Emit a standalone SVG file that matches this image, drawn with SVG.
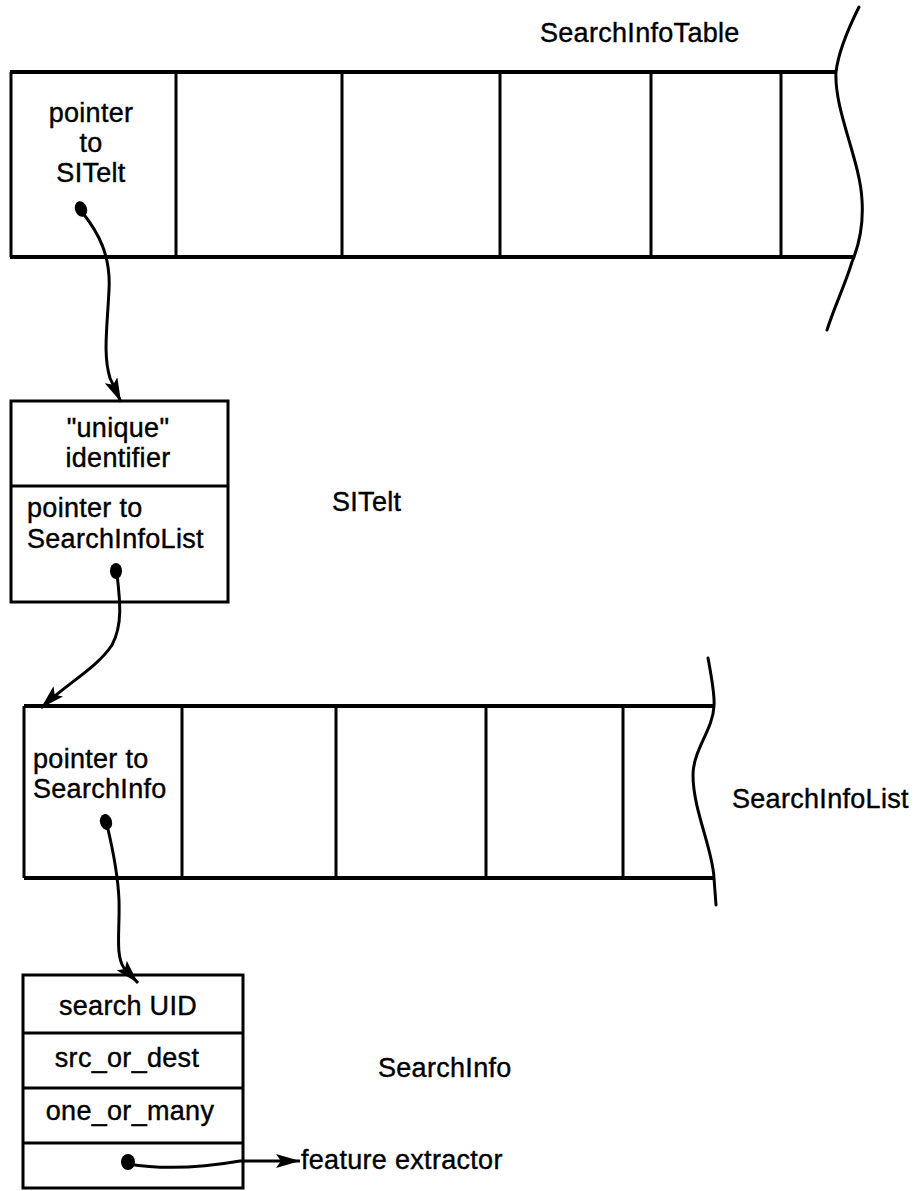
<svg xmlns="http://www.w3.org/2000/svg" width="923" height="1191" viewBox="0 0 923 1191">
<style>
  text { font-family: "Liberation Sans", Arial, sans-serif; font-size: 27px; letter-spacing: 0.3px; fill: #000; stroke: #000; stroke-width: 0.4; }
  .c { text-anchor: middle; }
  .box { fill: none; stroke: #000; stroke-width: 3; }
  .thick { stroke: #000; stroke-width: 4; fill: none; }
  .div { stroke: #000; stroke-width: 3; }
  .wave { fill: none; stroke: #000; stroke-width: 3; stroke-linecap: round; }
  .conn { fill: none; stroke: #000; stroke-width: 3; }
  .dot { fill: #000; }
</style>
<defs>
  <marker id="arrow" viewBox="0 0 24 14" refX="24" refY="7" markerWidth="24" markerHeight="14" markerUnits="userSpaceOnUse" orient="auto">
    <path d="M0,0 L24,7 L0,14 L5,7 Z" fill="#000"/>
  </marker>
</defs>
<rect width="923" height="1191" fill="#fff"/>

<g id="SearchInfoTable">
  <text x="540" y="42">SearchInfoTable</text>
  <line class="thick" x1="10" y1="72" x2="837" y2="72"/>
  <line class="thick" x1="10" y1="257" x2="855" y2="257"/>
  <line class="div" x1="11" y1="72" x2="11" y2="257"/>
  <line class="div" x1="176" y1="72" x2="176" y2="257"/>
  <line class="div" x1="342" y1="72" x2="342" y2="257"/>
  <line class="div" x1="500" y1="72" x2="500" y2="257"/>
  <line class="div" x1="651" y1="72" x2="651" y2="257"/>
  <line class="div" x1="781" y1="72" x2="781" y2="257"/>
  <path class="wave" d="M859,7 C846,33 838,55 836,72 C834,110 860,160 862,200 C864,230 857,250 852,262 C845,285 835,305 827,330"/>
  <text class="c" x="91" y="122">pointer</text>
  <text class="c" x="91" y="152">to</text>
  <text class="c" x="91" y="182">SITelt</text>
</g>

<g id="SITelt">
  <rect class="box" x="11" y="401" width="217" height="201"/>
  <line class="div" x1="11" y1="486" x2="228" y2="486"/>
  <text class="c" x="118" y="437">"unique"</text>
  <text class="c" x="118" y="467">identifier</text>
  <text x="27" y="517">pointer to</text>
  <text x="27" y="548">SearchInfoList</text>
  <text x="332" y="511">SITelt</text>
</g>

<g id="SearchInfoList">
  <line class="thick" x1="24" y1="706" x2="714" y2="706"/>
  <line class="thick" x1="24" y1="878" x2="714" y2="878"/>
  <line class="div" x1="24" y1="706" x2="24" y2="878"/>
  <line class="div" x1="182" y1="706" x2="182" y2="878"/>
  <line class="div" x1="336" y1="706" x2="336" y2="878"/>
  <line class="div" x1="486" y1="706" x2="486" y2="878"/>
  <line class="div" x1="623" y1="706" x2="623" y2="878"/>
  <path class="wave" d="M708,658 C712,680 715,695 714,706 C713,730 693,750 693,775 C693,810 713,850 714,878 L716,905"/>
  <text x="33" y="768">pointer to</text>
  <text x="33" y="798">SearchInfo</text>
  <text x="732" y="808">SearchInfoList</text>
</g>

<g id="SearchInfo">
  <rect class="box" x="23" y="975" width="220" height="213"/>
  <line class="div" x1="23" y1="1033" x2="243" y2="1033"/>
  <line class="div" x1="23" y1="1088" x2="243" y2="1088"/>
  <line class="div" x1="23" y1="1143" x2="243" y2="1143"/>
  <text class="c" x="128" y="1015">search UID</text>
  <text class="c" x="127" y="1067">src_or_dest</text>
  <text class="c" x="130" y="1120">one_or_many</text>
  <text x="378" y="1077">SearchInfo</text>
</g>

<g id="feature-extractor">
  <text x="301" y="1169">feature extractor</text>
</g>

<g id="connectors">
  <ellipse class="dot" cx="81" cy="209" rx="6" ry="8" transform="rotate(-20 81 209)"/>
  <path class="conn" marker-end="url(#arrow)" d="M82,212 C98,232 111,255 109,290 C107,330 103,355 110,378 L121,402"/>
  <ellipse class="dot" cx="116" cy="571" rx="6" ry="8"/>
  <path class="conn" marker-end="url(#arrow)" d="M117,574 C120,600 123,625 112,645 C97,668 66,684 41,708"/>
  <ellipse class="dot" cx="106" cy="822" rx="6" ry="8" transform="rotate(-15 106 822)"/>
  <path class="conn" marker-end="url(#arrow)" d="M107,825 C113,850 118,875 119,900 C120,930 115,955 124,968 L138,983"/>
  <ellipse class="dot" cx="128" cy="1162" rx="7" ry="8"/>
  <path class="conn" marker-end="url(#arrow)" d="M128,1164 C165,1170 200,1168 240,1161 L300,1161"/>
</g>
</svg>
